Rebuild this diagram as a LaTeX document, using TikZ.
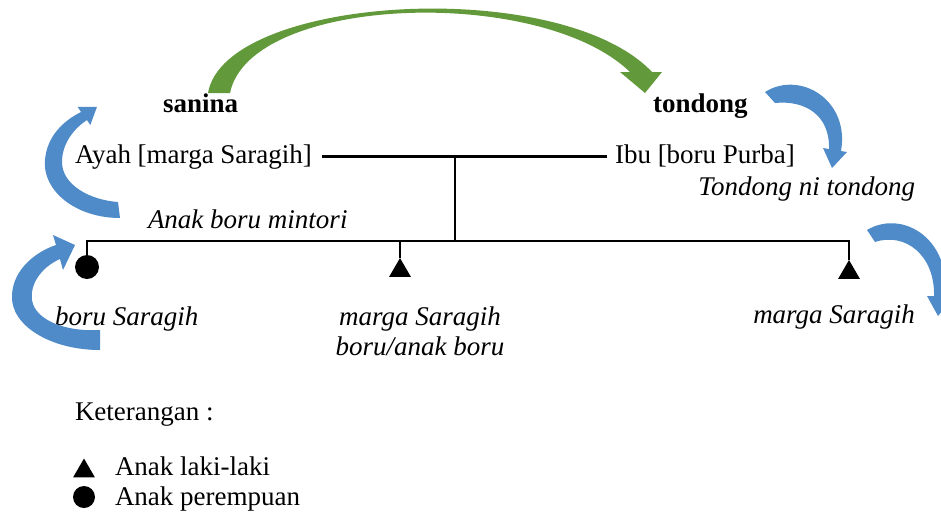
\documentclass[tikz,border=0pt]{standalone}
\usepackage{fontspec}
\setmainfont{Liberation Serif}
\usetikzlibrary{shapes.geometric}
\definecolor{bluearr}{RGB}{79,139,201}
\definecolor{greenarr}{RGB}{98,153,58}
\begin{document}
\begin{tikzpicture}[x=1pt,y=-1pt,
  every node/.style={inner sep=0pt, outer sep=0pt, font=\fontsize{27}{30}\selectfont},
  it/.style={font=\fontsize{27}{30}\selectfont\itshape},
  bd/.style={font=\fontsize{27}{30}\selectfont\bfseries},
  tline/.style={line width=2.6pt},
  boy/.style={regular polygon, regular polygon sides=3, fill=black, minimum size=25pt},
  girl/.style={circle, fill=black, minimum size=24pt},
  barrow/.style={fill=bluearr},
  garrow/.style={fill=greenarr}]
\useasboundingbox (0,0) rectangle (941,514);

% texts
\node[bd, anchor=base west] (sanina) at (163,112) {sanina};
\node[bd, anchor=base west] (tondong) at (653,112) {tondong};
\node[anchor=base west] (ayah) at (75,163) {Ayah [marga Saragih]};
\node[anchor=base west] (ibu) at (615,163) {Ibu [boru Purba]};
\node[it, anchor=base west] (mintori) at (148,228) {Anak boru mintori};
\node[it, anchor=base east] (tnt) at (915,195) {Tondong ni tondong};
\node[it, anchor=base west] (boru) at (55,325) {boru Saragih};
\node[it, anchor=base] (marga1) at (420,325) {marga Saragih};
\node[it, anchor=base] (marga2) at (420,355) {boru/anak boru};
\node[it, anchor=base east] (marga3) at (915,323) {marga Saragih};
\node[anchor=base west] (ket) at (75,420) {Keterangan :};
\node[anchor=base west] (laki) at (115,475) {Anak laki-laki};
\node[anchor=base west] (perempuan) at (115,505) {Anak perempuan};

% symbols
\node[girl] (c1) at (87,267) {};
\node[boy] (t1) at (400,270.5) {};
\node[boy] (t2) at (849,272.5) {};
\node[boy] (lboy) at (84,471) {};
\node[girl, minimum size=22pt] (lgirl) at (84,497) {};

% tree lines
\coordinate (jx) at (455,241);
\coordinate (j) at (ayah.east -| jx);
\coordinate (bl) at (87,241);
\coordinate (br) at (849,241);
\draw[tline] ([xshift=10pt]ayah.east) -- ([xshift=-8pt]ayah.east -| ibu.west);
\draw[tline] (j) -- (jx);
\draw[tline] (c1.north) -- (bl) -- (br) -- (t2.north);
\draw[tline] (t1.north |- bl) -- (t1.north);

% green arrow
\fill[garrow] (208,93) .. controls (225,-5) and (560,-25) .. (652,72) -- (662,72) -- (645,93) -- (620,72) -- (630,72) .. controls (540,-15) and (250,-5) .. (230,93) -- cycle;

% blue arrows
\fill[barrow] (120,218) .. controls (75,218) and (42,190) .. (45,160) .. controls (47,135) and (65,120) .. (81,112) -- (77.7,107) -- (97,106.8) -- (90.3,125) -- (87,120) .. controls (72,130) and (62,145) .. (62,162) .. controls (62,185) and (90,200) .. (118,202) -- cycle;
\fill[barrow] (100,350) .. controls (50,350) and (10,325) .. (12,295) .. controls (13,270) and (35,252) .. (56,245) -- (53,235) -- (75,245) -- (63,270) -- (60,259) .. controls (40,268) and (30,285) .. (32,300) .. controls (35,320) and (65,332) .. (100,330) -- cycle;
\fill[barrow] (765,92) .. controls (800,70) and (850,100) .. (841,151) -- (847,152) -- (832,168) -- (823,148) -- (829,149) .. controls (830,115) and (805,100) .. (775,103) -- cycle;
\begin{scope}
\clip (0,0) rectangle (941,514);
\fill[barrow] (867,230) .. controls (900,210) and (950,235) .. (946,297) -- (953,298) -- (938,316) -- (927,296) -- (934,296) .. controls (935,255) and (905,232) .. (875,242) -- cycle;
\end{scope}
\end{tikzpicture}
\end{document}
